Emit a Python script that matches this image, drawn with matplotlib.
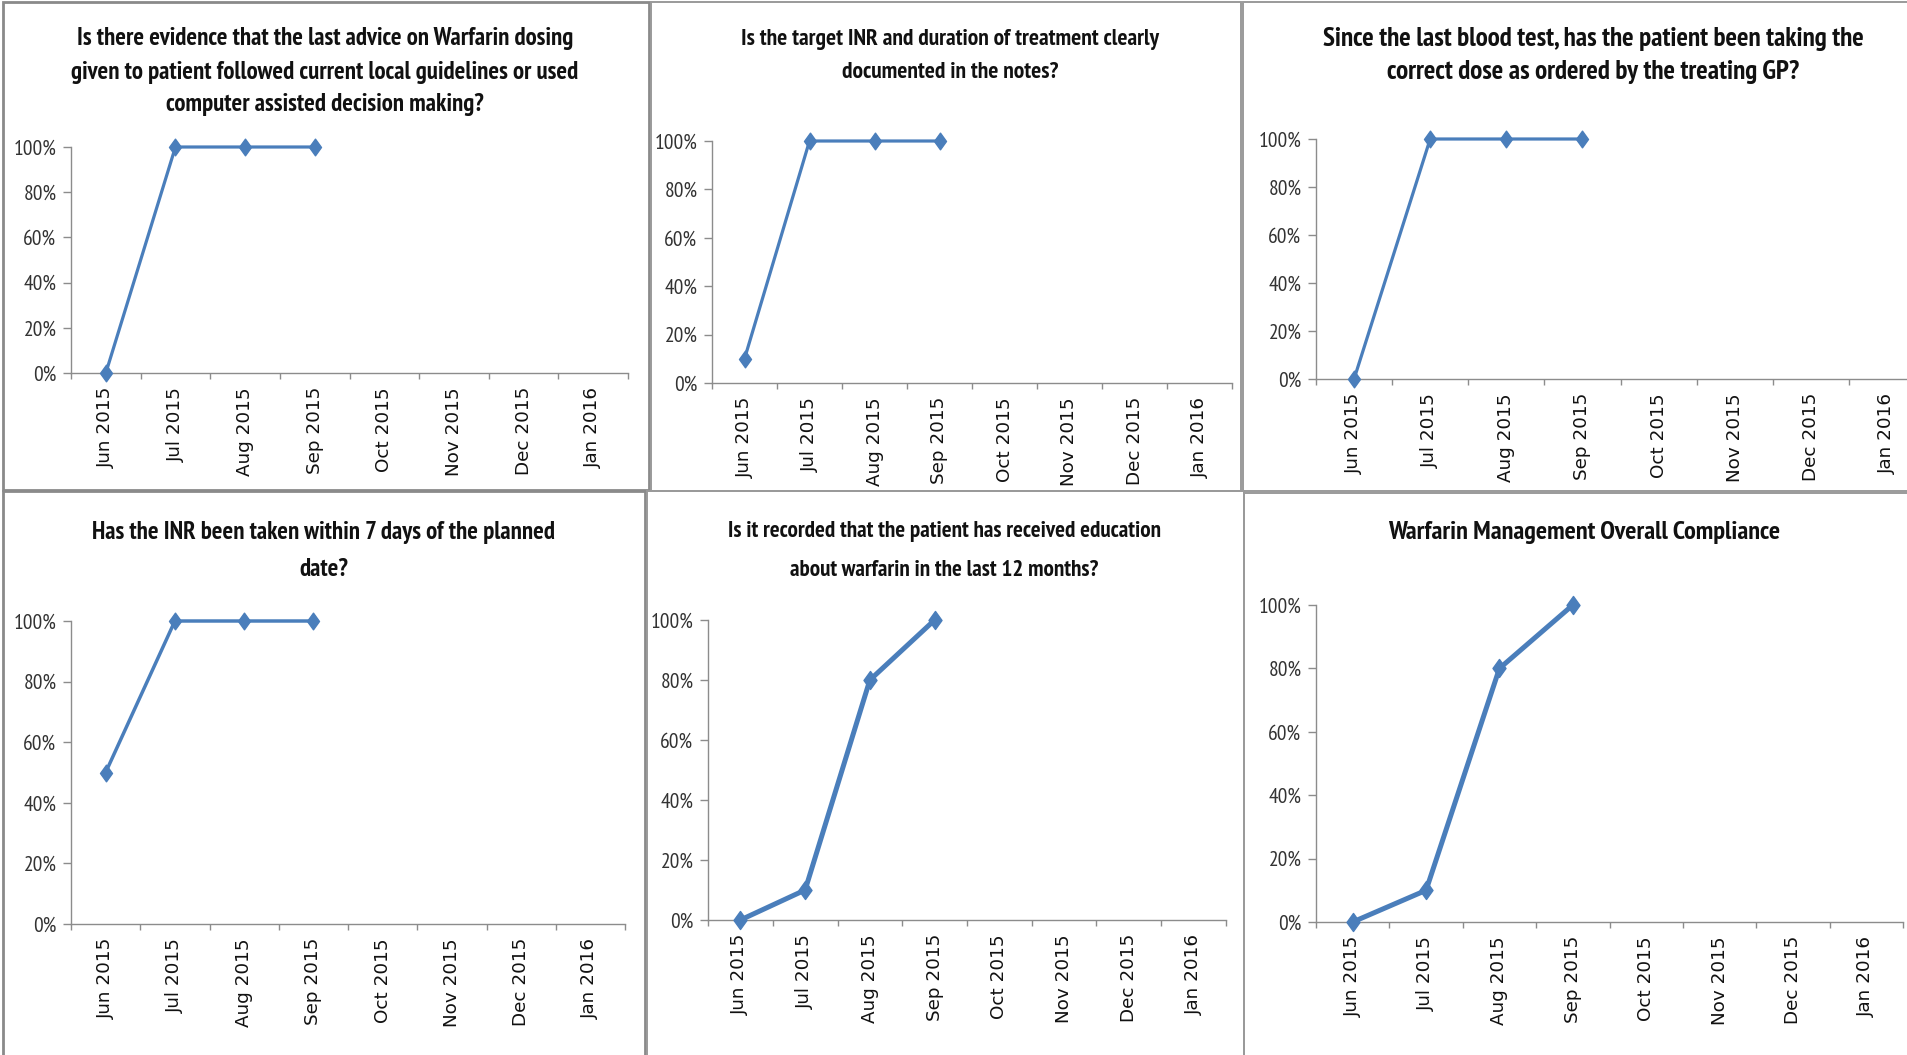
import matplotlib
matplotlib.use("Agg")
import matplotlib.pyplot as plt
from matplotlib.path import Path
from matplotlib.patches import Rectangle
from matplotlib.ticker import FixedLocator, FixedFormatter

# ---------------- data ----------------
months = ["Jun 2015", "Jul 2015", "Aug 2015", "Sep 2015",
          "Oct 2015", "Nov 2015", "Dec 2015", "Jan 2016"]
y_ticks = [0, 20, 40, 60, 80, 100]
y_tick_labels = ["0%", "20%", "40%", "60%", "80%", "100%"]

titles = [
    ["Is there evidence that the last advice on Warfarin dosing",
     "given to patient followed current local guidelines or used",
     "computer assisted decision making?"],
    ["Is the target INR and duration of treatment clearly",
     "documented in the notes?"],
    ["Since the last blood test, has the patient been taking the",
     "correct dose as ordered by the treating GP?"],
    ["Has the INR been taken within 7 days of the planned",
     "date?"],
    ["Is it recorded that the patient has received education",
     "about warfarin in the last 12 months?"],
    ["Warfarin Management Overall Compliance"],
]
series_advice = [0, 100, 100, 100]
series_target = [10, 100, 100, 100]
series_dose = [0, 100, 100, 100]
series_inr = [50, 100, 100, 100]
series_education = [0, 10, 80, 100]
series_overall = [0, 10, 80, 100]
all_series = [series_advice, series_target, series_dose,
              series_inr, series_education, series_overall]

# ---------------- layout (pixels) ----------------
W, H = 1907, 1055
axes_px = [  # left, right, top, bottom of plot area
    (71, 628, 147, 373),
    (712, 1232, 141, 383),
    (1316, 1925, 139, 379),
    (71, 625, 621, 924),
    (708, 1226, 620, 920),
    (1316, 1903, 605, 922),
]
# title centre x, first line centre y, line step, font size
title_px = [(325, 39, 33, 17.9), (950, 39, 34, 16.9), (1593, 39, 33, 19.5),
            (324, 532, 37, 17.9), (944, 532, 38.5, 16.7), (1584, 532, 36, 19.0)]
line_w = [2.3, 2.3, 2.3, 2.5, 3.6, 3.6]
mark_s = [12, 12, 12, 12, 13, 13]
frames = [
    (3, 2, 649, 490, 2.0, "#8a8a8a"),
    (651, 2, 1241, 491, 1.4, "#9a9a9a"),
    (1243, 2, 1912, 491, 1.4, "#9a9a9a"),
    (3, 491, 645, 1060, 2.0, "#8a8a8a"),
    (647, 491, 1244, 1060, 1.4, "#9a9a9a"),
    (1244, 493, 1912, 1060, 1.4, "#9a9a9a"),
]

BLUE = "#4A7EBB"
AXC = "#8c8c8c"
NARROW = ["PT Sans Narrow", "DejaVu Sans"]

diamond = Path([(0, 1), (0.72, 0), (0, -1), (-0.72, 0), (0, 1)],
               [Path.MOVETO, Path.LINETO, Path.LINETO, Path.LINETO, Path.CLOSEPOLY])

fig = plt.figure(figsize=(W / 100, H / 100), dpi=100)
fig.patch.set_facecolor("white")

for (x0, y0, x1, y1, lw, c) in frames:
    fig.patches.append(Rectangle((x0 / W, 1 - y1 / H), (x1 - x0) / W, (y1 - y0) / H,
                                 transform=fig.transFigure, fill=False,
                                 edgecolor=c, linewidth=lw, zorder=0))

for i in range(6):
    l, r, t, b = axes_px[i]
    ax = fig.add_axes([l / W, 1 - b / H, (r - l) / W, (b - t) / H])
    ax.set_facecolor("none")
    vals = all_series[i]
    ax.plot(range(len(vals)), vals, color=BLUE, linewidth=line_w[i],
            marker=diamond, markersize=mark_s[i], markerfacecolor=BLUE,
            markeredgecolor=BLUE, markeredgewidth=1, clip_on=False, zorder=5)
    ax.set_xlim(-0.5, len(months) - 0.5)
    ax.set_ylim(0, 100)
    for s in ("top", "right"):
        ax.spines[s].set_visible(False)
    for s in ("left", "bottom"):
        ax.spines[s].set_color(AXC)
        ax.spines[s].set_linewidth(1.0)
    ax.xaxis.set_major_locator(FixedLocator([k - 0.5 for k in range(len(months) + 1)]))
    ax.xaxis.set_major_formatter(FixedFormatter([""] * (len(months) + 1)))
    ax.xaxis.set_minor_locator(FixedLocator(list(range(len(months)))))
    ax.xaxis.set_minor_formatter(FixedFormatter(months))
    ax.tick_params(axis="x", which="major", direction="out", length=4.5, width=1, color=AXC)
    ax.tick_params(axis="x", which="minor", length=0, pad=10, labelsize=13.2,
                   labelrotation=90, labelcolor="#111111")
    for lab in ax.get_xticklabels(minor=True):
        lab.set_family("DejaVu Sans")
    ax.set_yticks(y_ticks)
    ax.set_yticklabels(y_tick_labels)
    ax.tick_params(axis="y", direction="out", length=5.5, width=1, color=AXC,
                   pad=5.0, labelsize=15.5, labelcolor="#333333")
    for lab in ax.get_yticklabels():
        lab.set_family(NARROW)
    tx, ty, step, fs = title_px[i]
    for k, line in enumerate(titles[i]):
        fig.text(tx / W, 1 - (ty + k * step) / H, line, ha="center", va="center",
                 fontsize=fs, fontweight="bold", family=NARROW, color="#111111")

fig.savefig("out.png", dpi=100, facecolor="white")
